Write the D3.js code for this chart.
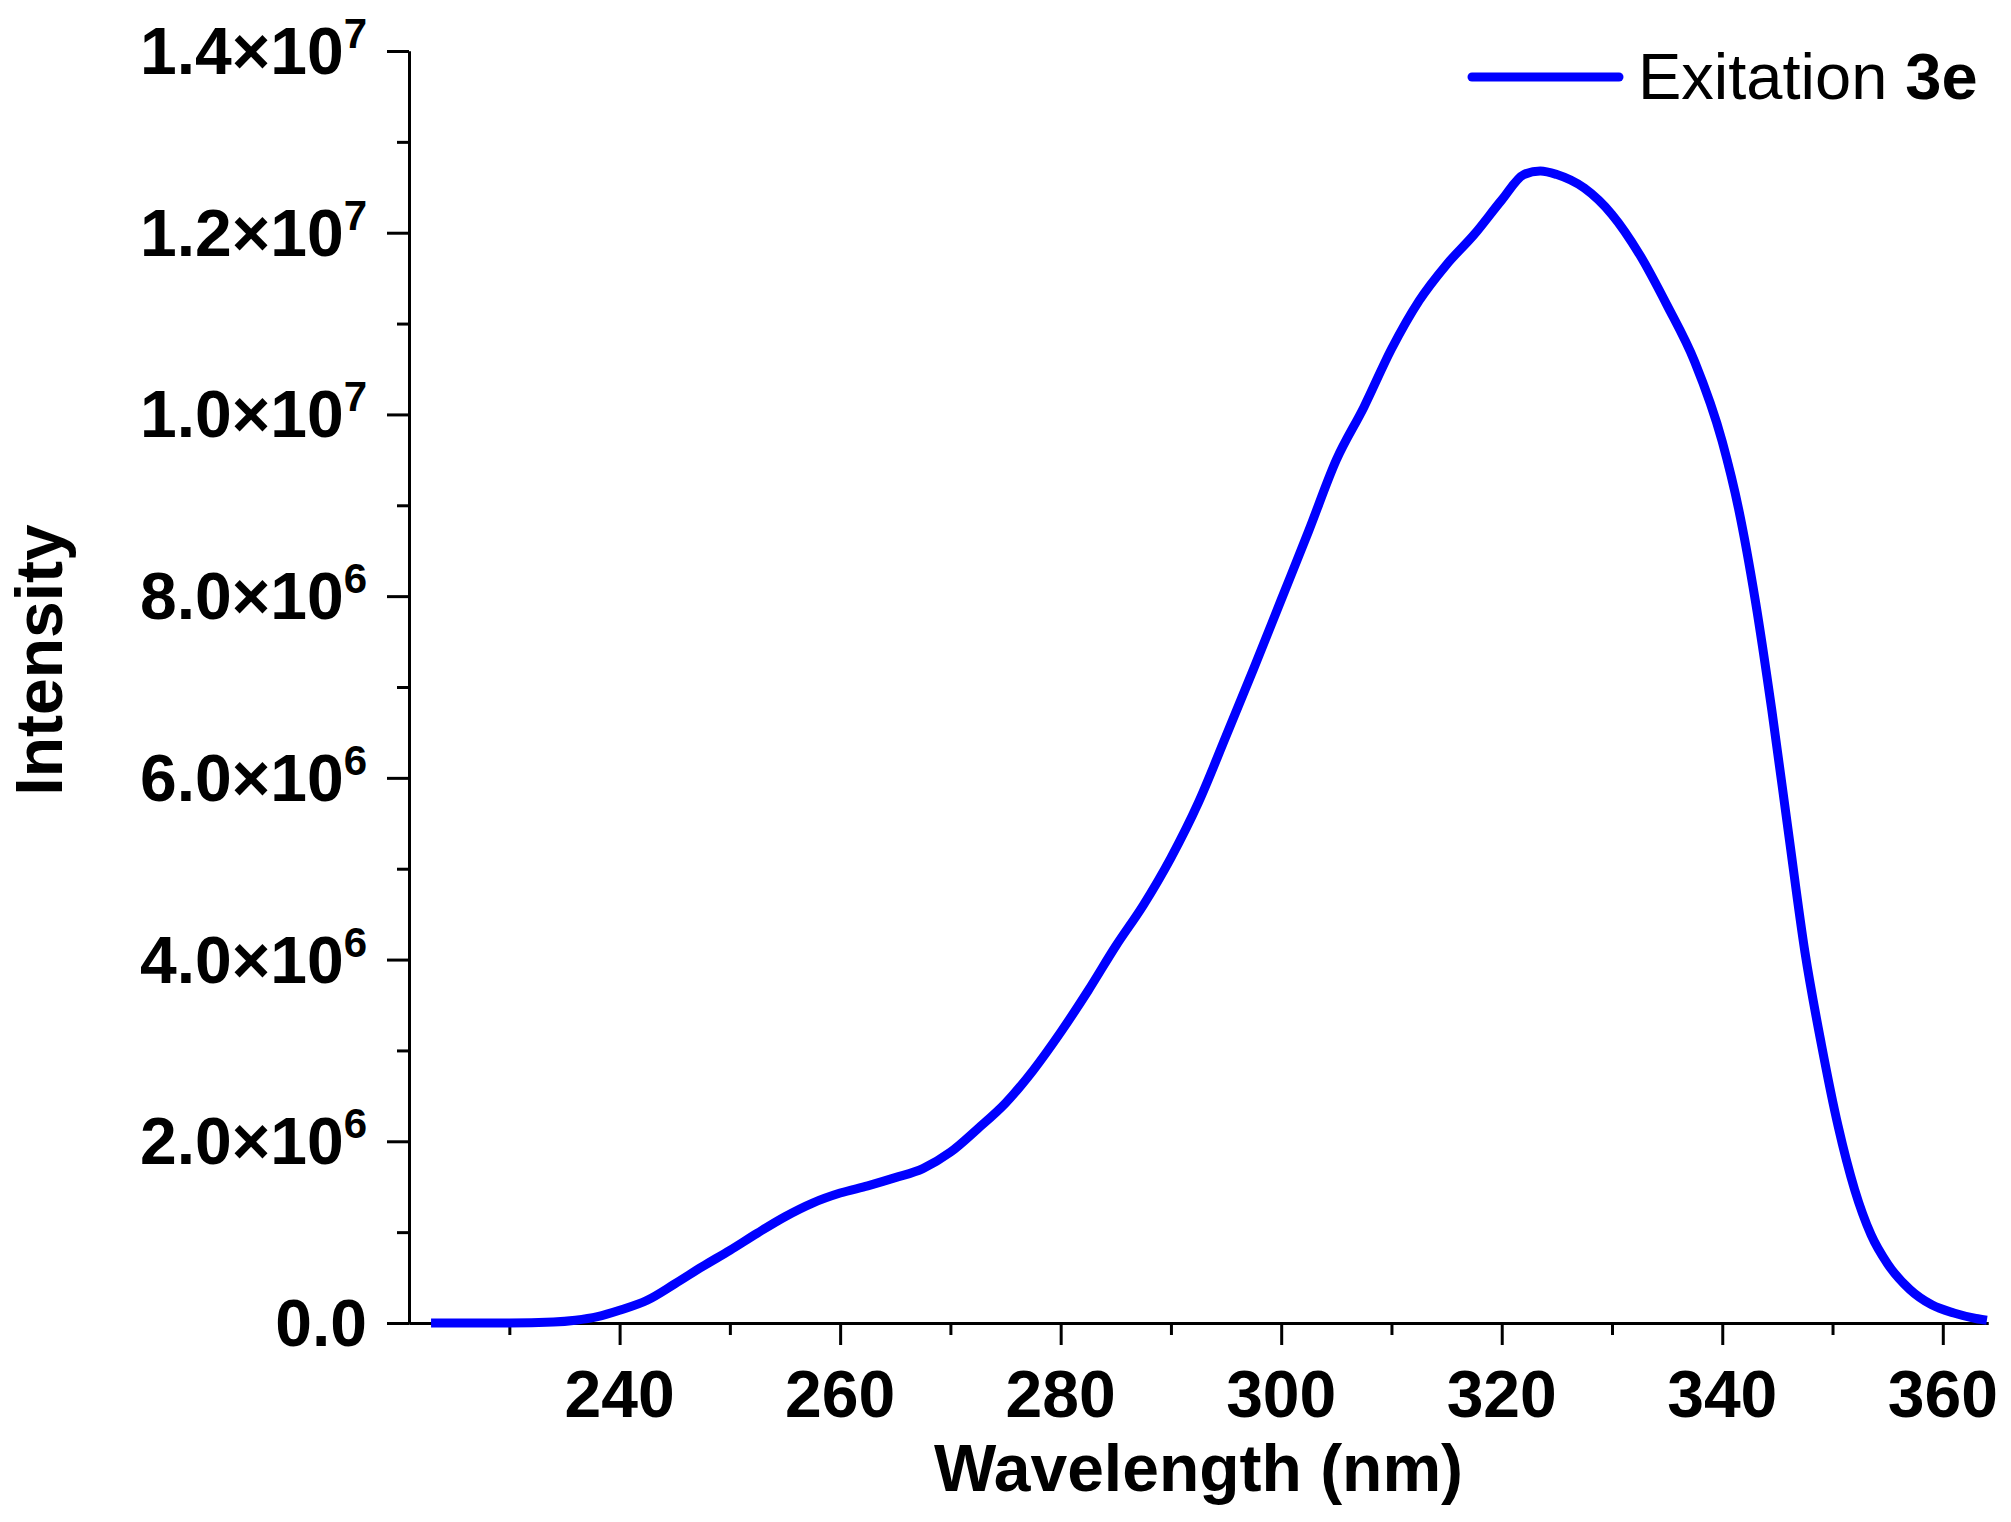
<!DOCTYPE html>
<html>
<head>
<meta charset="utf-8">
<script src="https://cdn.jsdelivr.net/npm/d3@7"></script>
<style>
  body { margin: 0; background: #fff; }
  svg { display: block; }
  text { font-family: "Liberation Sans", Arial, sans-serif; fill: #000; }
</style>
</head>
<body>
<div id="chart"></div>
<script>
// excitation spectrum (intensity in units of 1e6)
const wavelength = [222.9, 226, 230, 234, 236, 238, 240, 242.5, 245, 247.5, 250, 252.5, 255, 257.5, 260,
    262.5, 265, 267.5, 270, 272.5, 275, 277.5, 280, 282.5, 285, 287.5, 290, 292.5, 295, 297.5, 300,
    302.5, 305, 307.5, 310, 312.5, 315, 317.5, 320, 322, 323.5, 325, 327.5, 330, 332.5, 335, 337.5,
    340, 341.5, 343, 344.5, 346, 347.5, 349, 350.5, 352, 353.5, 355, 357, 359, 361, 363, 364];
const intensity = [0, 0, 0, 0.01, 0.03, 0.07, 0.14, 0.25, 0.43, 0.62, 0.80, 0.99, 1.17, 1.32, 1.43,
    1.51, 1.60, 1.70, 1.88, 2.14, 2.42, 2.78, 3.20, 3.66, 4.15, 4.60, 5.12, 5.73, 6.46, 7.20, 7.96,
    8.72, 9.50, 10.08, 10.72, 11.25, 11.65, 11.98, 12.36, 12.64, 12.68, 12.64, 12.49, 12.20, 11.76, 11.20, 10.58,
    9.70, 8.95, 7.95, 6.74, 5.40, 4.08, 3.06, 2.17, 1.47, 0.97, 0.65, 0.37, 0.20, 0.11, 0.05, 0.03];

const xTicks = [240, 260, 280, 300, 320, 340, 360];
const xMinorTicks = [230, 250, 270, 290, 310, 330, 350];
const yTicks = [0, 2e6, 4e6, 6e6, 8e6, 1e7, 1.2e7, 1.4e7];
const yTickMantissa = ["0.0", "2.0", "4.0", "6.0", "8.0", "1.0", "1.2", "1.4"];
const yTickExponent = ["", "6", "6", "6", "6", "7", "7", "7"];
const yMinorTicks = [1e6, 3e6, 5e6, 7e6, 9e6, 1.1e7, 1.3e7];
const seriesName = "Exitation";
const seriesTag = "3e";

const data = wavelength.map((w, i) => ({ w: w, v: intensity[i] * 1e6 }));

const width = 2011, height = 1522;
const margin = { top: 51, right: 23, bottom: 199, left: 409 };

const svg = d3.select("#chart").append("svg")
    .attr("width", width)
    .attr("height", height);

const x = d3.scaleLinear()
    .domain([220.9, 364.1])
    .range([margin.left, width - margin.right]);

const y = d3.scaleLinear()
    .domain([0, 1.4e7])
    .range([height - margin.bottom, margin.top]);

const styleAxis = g => {
    g.select(".domain").attr("stroke", "#000").attr("stroke-width", 3);
    g.selectAll(".tick line").attr("stroke", "#000").attr("stroke-width", 3);
};

// x axis
svg.append("g")
    .attr("transform", `translate(0,${y(0)})`)
    .call(d3.axisBottom(x).tickValues(xMinorTicks).tickSize(12).tickSizeOuter(0).tickFormat(""))
    .call(styleAxis);

svg.append("g")
    .attr("transform", `translate(0,${y(0)})`)
    .call(d3.axisBottom(x).tickValues(xTicks).tickSize(22).tickSizeOuter(0).tickFormat(""))
    .call(styleAxis);

svg.selectAll(".x-label")
    .data(xTicks)
    .join("text")
    .attr("class", "x-label")
    .attr("x", d => x(d))
    .attr("y", y(0) + 94)
    .attr("text-anchor", "middle")
    .attr("font-size", 66)
    .attr("font-weight", "bold")
    .text(d => d);

// y axis
svg.append("g")
    .attr("transform", `translate(${x.range()[0]},0)`)
    .call(d3.axisLeft(y).tickValues(yMinorTicks).tickSize(12).tickSizeOuter(0).tickFormat(""))
    .call(styleAxis);

svg.append("g")
    .attr("transform", `translate(${x.range()[0]},0)`)
    .call(d3.axisLeft(y).tickValues(yTicks).tickSize(22).tickSizeOuter(0).tickFormat(""))
    .call(styleAxis);

const yLabels = svg.selectAll(".y-label")
    .data(yTicks)
    .join("text")
    .attr("class", "y-label")
    .attr("x", x.range()[0] - 42)
    .attr("y", d => y(d) + 23)
    .attr("text-anchor", "end")
    .attr("font-size", 66)
    .attr("font-weight", "bold");

yLabels.append("tspan")
    .text((d, i) => yTickExponent[i] ? yTickMantissa[i] + "\u00d710" : yTickMantissa[i]);

yLabels.filter((d, i) => yTickExponent[i] !== "")
    .append("tspan")
    .attr("dy", -26)
    .attr("font-size", 42)
    .text(d => yTickExponent[yTicks.indexOf(d)]);

// axis titles
svg.append("text")
    .attr("x", (x.range()[0] + x.range()[1]) / 2)
    .attr("y", 1491)
    .attr("text-anchor", "middle")
    .attr("font-size", 66)
    .attr("font-weight", "bold")
    .text("Wavelength (nm)");

svg.append("text")
    .attr("transform", "translate(62,660) rotate(-90)")
    .attr("text-anchor", "middle")
    .attr("font-size", 66)
    .attr("font-weight", "bold")
    .text("Intensity");

// spectrum
const line = d3.line()
    .x(d => x(d.w))
    .y(d => y(d.v))
    .curve(d3.curveMonotoneX);

svg.append("path")
    .datum(data)
    .attr("fill", "none")
    .attr("stroke", "#0000ff")
    .attr("stroke-width", 9)
    .attr("stroke-linejoin", "round")
    .attr("d", line);

// legend
const legend = svg.append("g");

legend.append("line")
    .attr("x1", 1472)
    .attr("x2", 1619)
    .attr("y1", 77)
    .attr("y2", 77)
    .attr("stroke", "#0000ff")
    .attr("stroke-width", 9)
    .attr("stroke-linecap", "round");

const legendText = legend.append("text")
    .attr("x", 1638)
    .attr("y", 99)
    .attr("font-size", 65);

legendText.append("tspan").text(seriesName);
legendText.append("tspan")
    .attr("dx", 18)
    .attr("font-weight", "bold")
    .text(seriesTag);
</script>
</body>
</html>
